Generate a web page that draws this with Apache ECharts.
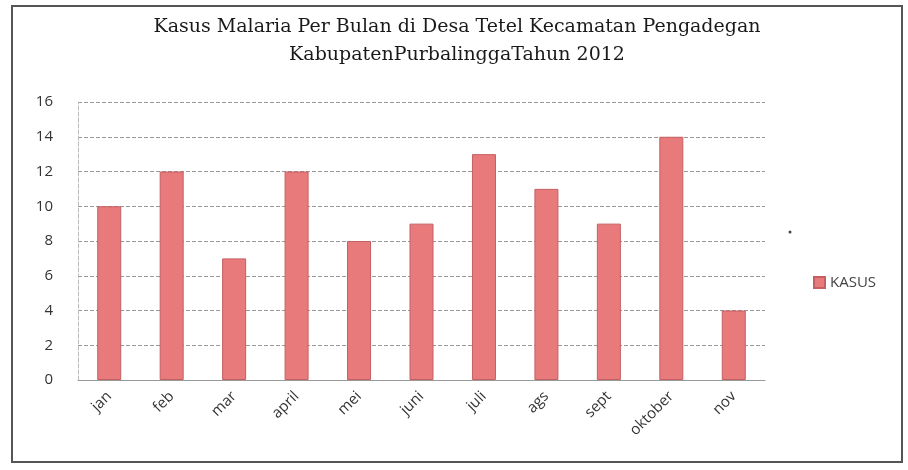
<!DOCTYPE html>
<html>
<head>
<meta charset="utf-8">
<script src="https://cdn.jsdelivr.net/npm/echarts@6/dist/echarts.min.js"></script>
<style>
  html, body { margin: 0; padding: 0; background: #fff; }
  #chart { width: 908px; height: 470px; }
</style>
</head>
<body>
<div id="chart"></div>
<script>
const bulan = ['jan', 'feb', 'mar', 'april', 'mei', 'juni', 'juli', 'ags', 'sept', 'oktober', 'nov'];
const kasus = [10, 12, 7, 12, 8, 9, 13, 11, 9, 14, 4];

const myChart = echarts.init(document.getElementById('chart'));

const option = {
    animation: false,
    title: {
        text: 'Kasus Malaria Per Bulan di Desa Tetel Kecamatan Pengadegan\nKabupatenPurbalinggaTahun 2012',
        left: 452,
        textAlign: 'center',
        top: 8,
        textStyle: {
            fontFamily: 'DejaVu Serif',
            fontSize: 19,
            fontWeight: 'normal',
            color: '#1a1a1a',
            lineHeight: 28
        }
    },
    legend: {
        data: [{ name: 'KASUS', icon: 'rect' }],
        left: 808,
        top: 270,
        itemWidth: 11,
        itemHeight: 11,
        itemGap: 4,
        textStyle: { fontFamily: 'Open Sans', fontSize: 15, color: '#444' }
    },
    grid: { left: 78, right: 143, top: 102, bottom: 90 },
    xAxis: {
        type: 'category',
        data: bulan,
        axisTick: { show: false },
        axisLine: { lineStyle: { color: '#999' } },
        axisLabel: {
            rotate: 45,
            margin: 14,
            fontFamily: 'Open Sans',
            fontSize: 15,
            color: '#333'
        }
    },
    yAxis: {
        type: 'value',
        min: 0,
        max: 16,
        interval: 2,
        axisLine: { show: true, lineStyle: { color: '#bbb', type: 'dashed' } },
        axisTick: { show: false },
        axisLabel: { fontFamily: 'Open Sans', fontSize: 15, color: '#333', margin: 25 },
        splitLine: { lineStyle: { color: '#999', type: 'dashed' } }
    },
    series: [
        {
            name: 'KASUS',
            type: 'bar',
            data: kasus,
            barWidth: 24,
            itemStyle: {
                color: '#e97a7c',
                borderColor: '#c45f62',
                borderWidth: 1
            }
        }
    ],
    graphic: [
        {
            type: 'rect',
            shape: { x: 12, y: 6, width: 890, height: 456 },
            style: { fill: 'none', stroke: '#555', lineWidth: 2 },
            silent: true
        },
        {
            type: 'circle',
            shape: { cx: 790, cy: 232, r: 1.5 },
            style: { fill: '#444' },
            silent: true
        }
    ]
};

myChart.setOption(option);
</script>
</body>
</html>
